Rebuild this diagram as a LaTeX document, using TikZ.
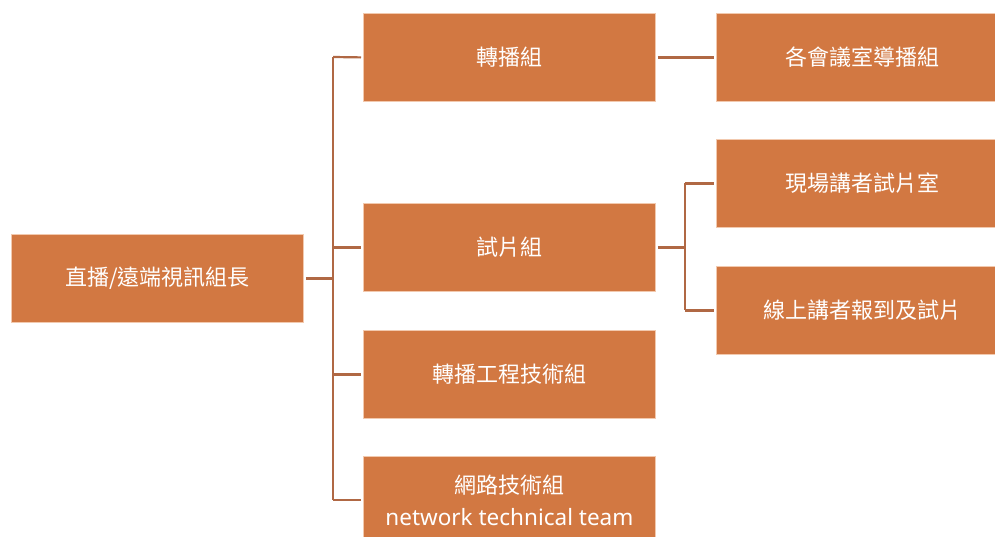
\documentclass[tikz,border=0pt]{standalone}
\usepackage{fontspec}
\setmainfont{Noto Sans CJK TC}
\newfontfamily\latinfont{Noto Sans}
\definecolor{boxfill}{HTML}{D27842}
\definecolor{boxedge}{HTML}{F2C9AE}
\definecolor{linkcol}{HTML}{B06844}
\begin{document}
\begin{tikzpicture}[x=1pt,y=-1pt,
  orgbox/.style={rectangle, fill=boxfill, draw=boxedge, line width=0.8pt,
    minimum width=292pt, minimum height=88pt, inner sep=0pt,
    text=white, font=\fontsize{22}{32}\selectfont, align=center, anchor=north west},
  link/.style={draw=linkcol, line width=2.2pt}]
\useasboundingbox (0,0) rectangle (995,536);
\begin{scope}
\clip (0,0) rectangle (995,536);
\node[orgbox] (root) at (11,234) {直播/遠端視訊組長};
\node[orgbox] (relay) at (363,13) {轉播組};
\node[orgbox] (trial) at (363,203) {試片組};
\node[orgbox] (eng) at (363,330) {轉播工程技術組};
\node[orgbox] (net) at (363,456) {網路技術組\\{\latinfont\fontsize{22.5}{32}\selectfont network technical team}};
\node[orgbox] (rooms) at (716,13) {各會議室導播組};
\node[orgbox] (onsite) at (716,139) {現場講者試片室};
\node[orgbox] (online) at (716,266) {線上講者報到及試片};

\coordinate (trunkTop) at (333,57);
\coordinate (trunkBot) at (333,500);
\draw[link] ([xshift=2pt]root.east) -- (root.east -| trunkTop);
\draw[link] (trunkTop) -- (trunkBot);
\draw[link] (trunkTop) -- ([xshift=-2pt]relay.west);
\draw[link] (trunkTop |- trial.west) -- ([xshift=-2pt]trial.west);
\draw[link] (trunkTop |- eng.west) -- ([xshift=-2pt]eng.west);
\draw[link] (trunkBot) -- ([xshift=-2pt]trunkBot -| net.west);

\draw[link] ([xshift=2pt]relay.east) -- ([xshift=-2pt]rooms.west);

\coordinate (sub) at (685,0);
\draw[link] ([xshift=2pt]trial.east) -- (trial.east -| sub);
\draw[link] (sub |- onsite.west) -- (sub |- online.west);
\draw[link] (sub |- onsite.west) -- ([xshift=-2pt]onsite.west);
\draw[link] (sub |- online.west) -- ([xshift=-2pt]online.west);
\end{scope}
\end{tikzpicture}
\end{document}
